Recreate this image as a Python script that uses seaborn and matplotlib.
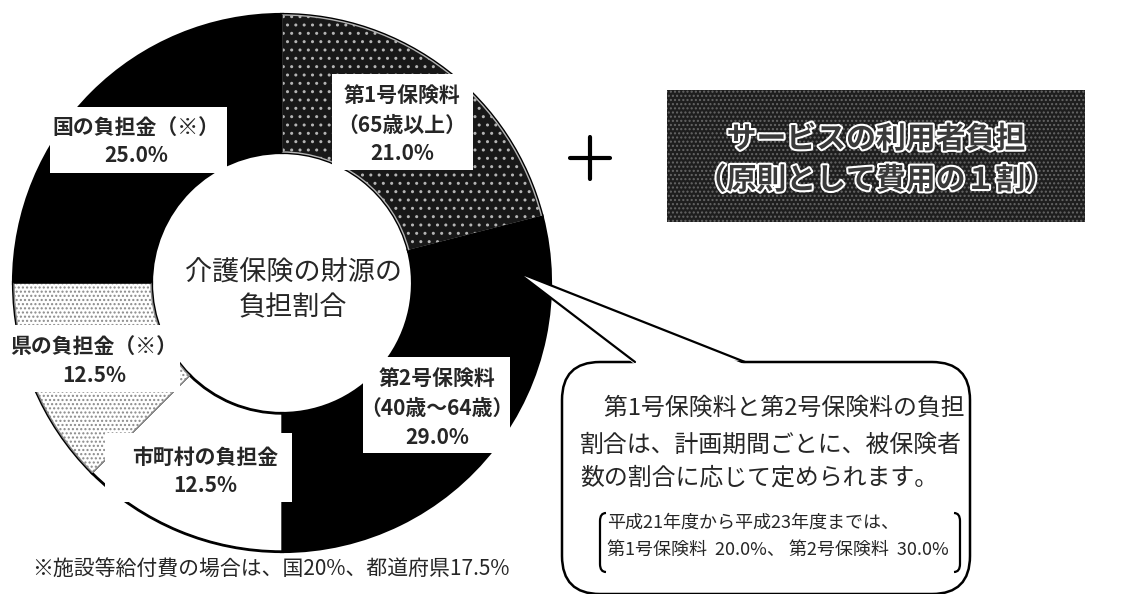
import numpy as np
import matplotlib
matplotlib.use("Agg")
import matplotlib.pyplot as plt
import matplotlib.patheffects as pe
from matplotlib.patches import Rectangle, FancyBboxPatch, Polygon
from matplotlib.path import Path
from matplotlib.patches import PathPatch
import seaborn as sns

# 介護保険の財源の負担割合
categories = ["第1号保険料\n（65歳以上）", "第2号保険料\n（40歳～64歳）",
              "市町村の負担金", "県の負担金（※）", "国の負担金（※）"]
shares = [21.0, 29.0, 12.5, 12.5, 25.0]

center_title = ["介護保険の財源の", "負担割合"]
side_title = ["サービスの利用者負担", "（原則として費用の１割）"]
note_lines = ["　第1号保険料と第2号保険料の負担",
              "割合は、計画期間ごとに、被保険者",
              "数の割合に応じて定められます。"]
sub_lines = ["平成21年度から平成23年度までは、",
             "第1号保険料  20.0%、 第2号保険料  30.0%"]
footnote = "※施設等給付費の場合は、国20%、都道府県17.5%"

sns.set_theme(style="white")
plt.rcParams['font.family'] = ['Noto Sans CJK JP', 'DejaVu Sans']

fig = plt.figure(figsize=(11.21, 5.94), dpi=100)
ax = fig.add_axes([0, 0, 1, 1])

# ドーナツ（見た目の上から時計回り）
cx, cy, R, W = 282, 283, 268, 137
face = ["#181818", "black", "white", "white", "black"]
edge = ["#b5b5b5", "black", "black", "#8a8a8a", "black"]
hatch = ["..", None, None, "....", None]

ax.pie(shares, startangle=-90, counterclock=True, center=(cx, cy), radius=R,
       frame=True, wedgeprops=dict(width=W, fill=False, edgecolor="black", linewidth=3))
wedges, _ = ax.pie(shares, startangle=-90, counterclock=True, center=(cx, cy),
                   radius=R, frame=True, wedgeprops=dict(width=W, linewidth=1))
for w, fc, ec, h in zip(wedges, face, edge, hatch):
    w.set_facecolor(fc)
    w.set_edgecolor(ec)
    if h:
        w.set_hatch(h)

# ラベル（白い囲み）
label_boxes = [(332, 74, 141, 96), (363, 357, 147, 96), (105, 433, 187, 69),
               (0, 325, 180, 67), (50, 107, 177, 66)]
label_pos = [(402, [95, 125, 153]), (437, [378, 408, 437]), (205, [457, 485]),
             (94, [346, 375]), (136, [127, 155])]
for (bx, by, bw, bh), (tx, ys), cat, v in zip(label_boxes, label_pos, categories, shares):
    ax.add_patch(Rectangle((bx, by), bw, bh, facecolor="white", edgecolor="none", zorder=3))
    lines = cat.split("\n") + [f"{v:.1f}%"]
    for y, s in zip(ys, lines):
        ax.text(tx, y, s, ha="center", va="center", fontsize=15, fontweight="bold", zorder=4)

for y, s in zip([272, 308], center_title):
    ax.text(293, y, s, ha="center", va="center", fontsize=19.5, zorder=4)

# ＋
ax.plot([570, 610], [158, 158], color="black", lw=3)
ax.plot([590, 590], [137, 179], color="black", lw=3)

# 利用者負担の箱
ax.add_patch(Rectangle((667, 90), 418, 132, facecolor="#1e1e1e", edgecolor="#666666",
                       hatch="....", linewidth=0, zorder=2))
for y, s in zip([139, 180], side_title):
    ax.text(876, y, s, ha="center", va="center", fontsize=21.5, fontweight="bold",
            color="#3a3a3a", zorder=4,
            path_effects=[pe.withStroke(linewidth=3, foreground="white")])

# 吹き出し
ax.add_patch(FancyBboxPatch((562, 362), 408, 232, boxstyle="round,pad=0,rounding_size=38",
                            facecolor="white", edgecolor="black", linewidth=1.8, zorder=5))
ax.add_patch(Polygon([(635, 364.5), (517, 272), (745, 364.5)], closed=True,
                     facecolor="white", edgecolor="none", zorder=6))
ax.plot([635, 517, 745], [362, 272, 362], color="black", lw=1.6, zorder=7)

for y, s in zip([408, 445, 478], note_lines):
    ax.text(580, y, s, ha="left", va="center", fontsize=17.2, zorder=8)
for y, s in zip([523, 550], sub_lines):
    ax.text(607, y, s, ha="left", va="center", fontsize=13, zorder=8)


def bracket(x, y0, y1, d):
    verts = [(x + d, y0), (x, y0), (x, y0 + 8), (x, y1 - 8), (x, y1), (x + d, y1)]
    codes = [Path.MOVETO, Path.CURVE3, Path.CURVE3, Path.LINETO, Path.CURVE3, Path.CURVE3]
    ax.add_patch(PathPatch(Path(verts, codes), fill=False, edgecolor="black", lw=1.6, zorder=8))


bracket(600, 513, 572, 6)
bracket(960, 513, 572, -6)

ax.text(32, 570, footnote, ha="left", va="center", fontsize=15)

ax.set_xlim(0, 1121)
ax.set_ylim(594, 0)
ax.set_aspect("equal")
ax.axis("off")

fig.savefig("out.png", dpi=100, facecolor="white")
